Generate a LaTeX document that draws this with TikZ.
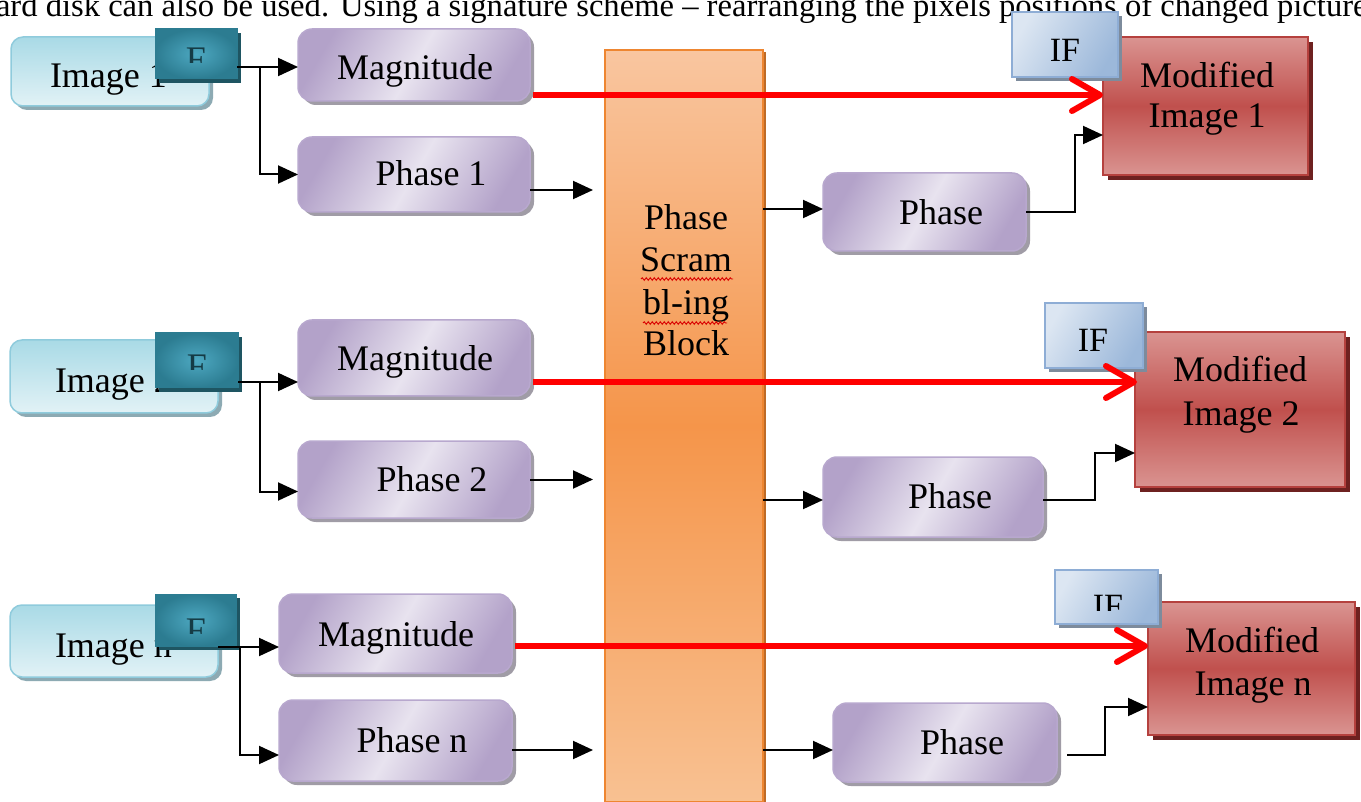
\documentclass[tikz,border=0pt]{standalone}
\usepackage{fontspec}
\setmainfont{Liberation Serif}
\usetikzlibrary{shadows,arrows.meta,calc,decorations.pathmorphing}
\definecolor{purpL}{HTML}{E8E3EF}
\definecolor{purpD}{HTML}{B3A2C9}
\definecolor{purpE}{HTML}{B8A8CE}
\definecolor{purpS}{HTML}{A09CA6}
\definecolor{imgL}{HTML}{E2F2F6}
\definecolor{imgD}{HTML}{A9DAE6}
\definecolor{imgE}{HTML}{8FCBDC}
\definecolor{imgS}{HTML}{8DAAB3}
\definecolor{FL}{HTML}{4DA8C1}
\definecolor{FD}{HTML}{2C7C91}
\definecolor{FS}{HTML}{1E5562}
\definecolor{orgT}{HTML}{F9C6A0}
\definecolor{orgM}{HTML}{F5954A}
\definecolor{orgB}{HTML}{F8C192}
\definecolor{orgE}{HTML}{EE8631}
\definecolor{redL}{HTML}{DA9491}
\definecolor{redM}{HTML}{C0504D}
\definecolor{redE}{HTML}{B5413E}
\definecolor{redS}{HTML}{6E2120}
\definecolor{ifL}{HTML}{DCE6F2}
\definecolor{ifD}{HTML}{9CB8DA}
\definecolor{ifE}{HTML}{8EADD5}
\definecolor{ifS}{HTML}{7D8B9C}
\definecolor{arrRed}{HTML}{FF0000}
\begin{document}
\begin{tikzpicture}[x=1pt,y=-1pt,
  every node/.style={inner sep=0pt,outer sep=0pt},
  txt/.style={font=\fontsize{36}{40}\selectfont,anchor=base},
  iftxt/.style={font=\fontsize{34}{40}\selectfont,anchor=base},
  imgbox/.style={draw=imgE,line width=1.5pt,rounded corners=12pt,top color=imgD,bottom color=imgL,
    drop shadow={shadow xshift=4pt,shadow yshift=-4pt,fill=imgS,opacity=1}},
  fbox/.style={draw=FD,line width=1pt,inner color=FL,outer color=FD,
    drop shadow={shadow xshift=4pt,shadow yshift=-4pt,fill=FS,opacity=1}},
  purpbox/.style={draw=purpE,line width=1.5pt,rounded corners=14pt,left color=purpD,right color=purpD,middle color=purpL,shading angle=60,
    drop shadow={shadow xshift=4pt,shadow yshift=-4pt,fill=purpS,opacity=1}},
  orgbox/.style={draw=orgE,line width=1.5pt,top color=orgT,bottom color=orgB,middle color=orgM,
    drop shadow={shadow xshift=3pt,shadow yshift=-2pt,fill=orgE!80!black,opacity=1}},
  redbox/.style={draw=redE,line width=1.5pt,top color=redL,bottom color=redL,middle color=redM,
    drop shadow={shadow xshift=5pt,shadow yshift=-5pt,fill=redS,opacity=1}},
  ifbox/.style={draw=ifE,line width=1.5pt,left color=ifL,right color=ifD,shading angle=60,
    drop shadow={shadow xshift=4pt,shadow yshift=-4pt,fill=ifS,opacity=1}},
  blk/.style={draw=black,line width=2pt,-{Triangle[length=20pt,width=18pt]}},
  redarr/.style={draw=arrRed,line width=6pt,-{Straight Barb[length=28pt,width=32pt,round]}},
  wavy/.style={draw=red!85!black,line width=0.9pt,decorate,decoration={snake,amplitude=1.3pt,segment length=4pt}}
]
\path[use as bounding box] (0,0) rectangle (1361,802);
\clip (0,0) rectangle (1361,802);
\fill[white] (0,0) rectangle (1361,802);

% cropped text line at the top
\node[anchor=base west,font=\fontsize{32.6}{36}\selectfont] (toptext) at (-4,17)
  {ard disk can also be used. Using a signature scheme – rearranging the pixels positions of changed picture};

% ---------- input image boxes ----------
\node[imgbox,minimum width=198pt,minimum height=69pt] (img1) at (110,71.5) {};
\node[imgbox,minimum width=208pt,minimum height=73pt] (img2) at (114,376.5) {};
\node[imgbox,minimum width=208pt,minimum height=72pt] (img3) at (114,641) {};
\node[txt,anchor=base west] (img1t) at (50,88) {Image 1};
\node[txt,anchor=base west] (img2t) at (55,392) {Image 2};
\node[txt,anchor=base west] (img3t) at (55,657) {Image n};

% ---------- F boxes ----------
\node[fbox,minimum width=82pt,minimum height=50pt] (F1) at (196,54) {};
\node[fbox,minimum width=83pt,minimum height=55pt] (F2) at (196.5,360.5) {};
\node[fbox,minimum width=81pt,minimum height=52pt] (F3) at (195.5,620) {};
\begin{scope}
  \clip (155,29) rectangle (237,63);
  \node[txt,text=FS!70!black] (F1t) at (196,72) {F};
\end{scope}
\begin{scope}
  \clip (155,333) rectangle (238,370);
  \node[txt,text=FS!70!black] (F2t) at (197,379) {F};
\end{scope}
\begin{scope}
  \clip (155,594) rectangle (236,633);
  \node[txt,text=FS!70!black] (F3t) at (196,642) {F};
\end{scope}

% ---------- magnitude / phase boxes ----------
\node[purpbox,minimum width=232pt,minimum height=72pt] (Mag1) at (414,65) {};
\node[purpbox,minimum width=232pt,minimum height=75pt] (Ph1) at (414,174.5) {};
\node[purpbox,minimum width=232pt,minimum height=76pt] (Mag2) at (414,358) {};
\node[purpbox,minimum width=232pt,minimum height=77pt] (Ph2) at (414,479.5) {};
\node[purpbox,minimum width=233pt,minimum height=79pt] (Mag3) at (395.5,633.5) {};
\node[purpbox,minimum width=233pt,minimum height=81pt] (Phn) at (395.5,740.5) {};
\node[txt] (Mag1t) at (415,80) {Magnitude};
\node[txt] (Ph1t) at (431,186) {Phase 1};
\node[txt] (Mag2t) at (415,371) {Magnitude};
\node[txt] (Ph2t) at (432,491) {Phase 2};
\node[txt] (Mag3t) at (396,646) {Magnitude};
\node[txt] (Phnt) at (412,752) {Phase n};

% ---------- scrambling block ----------
\node[orgbox,minimum width=158pt,minimum height=752pt] (Blk) at (684,426) {};
\node[txt] (Blk1) at (686,230) {Phase};
\node[txt] (Blk2) at (686,272) {Scram};
\node[txt] (Blk3) at (686,315) {bl-ing};
\node[txt] (Blk4) at (686,356) {Block};
\draw[wavy] (641,279) -- (733,279);
\draw[wavy] (643,323) -- (727,323);

% ---------- output phase boxes ----------
\node[purpbox,minimum width=203pt,minimum height=78pt] (PhR1) at (924.5,212) {};
\node[purpbox,minimum width=220pt,minimum height=80pt] (PhR2) at (933,497) {};
\node[purpbox,minimum width=224pt,minimum height=79pt] (PhR3) at (945,742.5) {};
\node[txt] (PhR1t) at (941,225) {Phase};
\node[txt] (PhR2t) at (950,508) {Phase};
\node[txt] (PhR3t) at (962,754) {Phase};

% ---------- modified image boxes ----------
\node[redbox,minimum width=205pt,minimum height=138pt] (Mod1) at (1205.5,106) {};
\node[redbox,minimum width=210pt,minimum height=155pt] (Mod2) at (1240,409.5) {};
\node[redbox,minimum width=207pt,minimum height=133pt] (Mod3) at (1251.5,668.5) {};
\node[txt] (Mod1a) at (1207,88) {Modified};
\node[txt] (Mod1b) at (1207,128) {Image 1};
\node[txt] (Mod2a) at (1240,382) {Modified};
\node[txt] (Mod2b) at (1241,425) {Image 2};
\node[txt] (Mod3a) at (1252,652) {Modified};
\node[txt] (Mod3b) at (1253,695) {Image n};

% ---------- IF boxes ----------
\node[ifbox,minimum width=106pt,minimum height=65pt] (IF1) at (1065,44.5) {};
\node[ifbox,minimum width=98pt,minimum height=65pt] (IF2) at (1094,335.5) {};
\node[ifbox,minimum width=103pt,minimum height=54pt] (IF3) at (1106.5,597) {};
\node[iftxt] (IF1t) at (1065,62) {IF};
\node[iftxt] (IF2t) at (1093,352) {IF};
\begin{scope}
  \clip (1055,570) rectangle (1158,610);
  \node[iftxt] (IF3t) at (1108,617) {IF};
\end{scope}

% ---------- connectors: row 1 ----------
\coordinate (j1) at (260,67);
\coordinate (e1) at (593,190);
\draw[blk] (F1.east |- j1) -- (Mag1.west |- j1);
\draw[blk] (j1) |- (Ph1.west);
\draw[blk] (Ph1.east |- e1) -- (e1);
\draw[blk] ($(Blk.east |- PhR1.west)+(0,-3)$) -- ($(PhR1.west)+(0,-3)$);
\draw[blk] (PhR1.east) -- ++(49,0) |- ($(Mod1.west)+(0,29)$);
\draw[redarr] ($(Mag1.east)+(3,30)$) -- ($(Mod1.west)+(0,-11)$);

% ---------- connectors: row 2 ----------
\coordinate (k2) at ($(Mag2.west)+(0,24)$);
\coordinate (j2) at (260,382);
\coordinate (e2) at (593,479.5);
\draw[blk] (F2.east |- k2) -- (k2);
\draw[blk] (j2) |- ($(Ph2.west)+(0,12)$);
\draw[blk] (Ph2.east) -- (e2);
\draw[blk] ($(Blk.east |- PhR2.west)+(0,3)$) -- ($(PhR2.west)+(0,3)$);
\draw[blk] ($(PhR2.east)+(0,3)$) -- ++(52,0) |- ($(Mod2.west)+(0,43.5)$);
\draw[redarr] ($(Mag2.east)+(3,24)$) -- ($(Mod2.west)+(2,-27.5)$);

% ---------- connectors: row 3 ----------
\coordinate (s3) at (218,647);
\coordinate (j3) at (240,647);
\coordinate (e3) at (593,750);
\draw[blk] (s3) -- (Mag3.west |- s3);
\draw[blk] (j3) |- ($(Phn.west)+(0,14.5)$);
\draw[blk] (Phn.east |- e3) -- (e3);
\draw[blk] (Blk.east |- e3) -- (PhR3.west |- e3);
\draw[blk] ($(PhR3.east)+(10,12.5)$) -- ++(38,0) |- ($(Mod3.west)+(0,38.5)$);
\draw[redarr] ($(Mag3.east)+(3,12.5)$) -- ($(Mod3.west)+(0,-22.5)$);
\end{tikzpicture}
\end{document}
